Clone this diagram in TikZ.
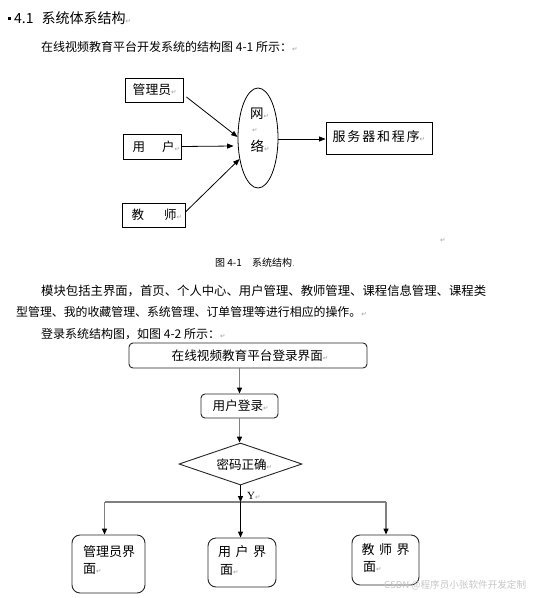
\documentclass[tikz,border=0pt]{standalone}
\usepackage{fontspec}
\setmainfont{Noto Sans CJK SC}
\newfontfamily\dvfont{DejaVu Sans}
\newfontfamily\serifY{Liberation Serif}
\usetikzlibrary{arrows.meta,shapes.geometric,calc}
\definecolor{pmgray}{gray}{0.62}
\definecolor{lnkgray}{gray}{0.5}
\definecolor{wmgray}{gray}{0.78}
\newcommand\fsz[1]{\fontsize{#1}{#1}\selectfont}
\newcommand\parmark{{\dvfont\fontsize{6.5}{6.5}\selectfont\textcolor{pmgray}{↵}}}
\begin{document}
\begin{tikzpicture}[x=1pt,y=-1pt,
  txt/.style={inner sep=0pt,anchor=west},
  sqbox/.style={draw=black,line width=0.9pt,inner sep=0pt},
  rbox/.style={draw=black!85,line width=0.9pt,rounded corners=4pt,inner sep=0pt},
  bbox/.style={draw=black!85,line width=0.9pt,rounded corners=8pt,inner sep=0pt},
  barr/.style={draw=black,line width=0.8pt,-{Triangle[length=6.5pt,width=5pt]}},
  garr/.style={draw=lnkgray,line width=1.2pt,-{Triangle[length=6pt,width=5pt,color=black]}},
  kline/.style={draw=black,line width=1pt},
  gline/.style={draw=lnkgray,line width=1.2pt}]
\useasboundingbox (0,0) rectangle (537,598);
\fill[white] (0,0) rectangle (537,598);

% heading and intro
\node[fill=black,minimum size=3pt,inner sep=0pt] (bullet) at (9.5,18) {};
\node[txt] (title) at (14,18) {\fsz{14}4.1\hspace{8pt}系统体系结构\parmark};
\node[txt] (intro) at (41,47) {\fsz{12}在线视频教育平台开发系统的结构图 4-1 所示：\parmark};

% diagram 4-1
\node[sqbox,minimum width=58pt,minimum height=24pt] (adm) at (154,90) {};
\node[txt] (admt) at (132.5,90) {\fsz{12.8}管理员\parmark};
\node[sqbox,minimum width=58pt,minimum height=25pt] (usr) at (152,146.5) {};
\node[txt] (usrt) at (132.5,146.5) {\fsz{12.5}用\hspace{17pt}户\parmark};
\node[sqbox,minimum width=63pt,minimum height=24pt] (tea) at (153.5,215) {};
\node[txt] (teat) at (131.5,215) {\fsz{12.5}教\hspace{20pt}师\parmark};
\node[draw=black,line width=0.8pt,ellipse,minimum width=40pt,minimum height=100pt,inner sep=0pt] (net) at (258,138) {};
\node[txt] (net1) at (250,114) {\fsz{13.5}网\parmark};
\node[txt] (net2) at (252,130) {\parmark};
\node[txt] (net3) at (250.5,146) {\fsz{13.5}络\parmark};
\node[sqbox,minimum width=106pt,minimum height=32pt] (srv) at (379,138) {};
\node[txt] (srvt) at (332.5,137) {\fsz{13}服\hspace{1.8pt}务\hspace{1.8pt}器\hspace{1.8pt}和\hspace{1.8pt}程\hspace{1.8pt}序\parmark};
\node[txt] (dot) at (440,240) {\parmark};

\draw[barr] ($(adm.east)+(3,7)$) -- ($(net.west)+(0,-1)$);
\draw[barr] (usr.east) -- ($(net.west)+(-4,8)$);
\draw[barr] ($(tea.east)+(0,-3)$) -- ($(net.west)+(2,21)$);
\draw[barr] ($(net.east)+(0,1)$) -- ($(srv.west)+(0,1)$);

\node[txt] (cap) at (215,263) {\fsz{10}图 4-1\hspace{10pt}系统结构\textcolor{pmgray}{.}};

% paragraph
\node[txt] (p1) at (41,291) {\fsz{12.36}模块包括主界面，首页、个人中心、用户管理、教师管理、课程信息管理、课程类};
\node[txt] (p2) at (16,312) {\fsz{11.9}型管理、我的收藏管理、系统管理、订单管理等进行相应的操作。\parmark};
\node[txt] (p3) at (41,334) {\fsz{12}登录系统结构图，如图 4-2 所示：\parmark};

% flowchart 4-2
\node[rbox,minimum width=238pt,minimum height=25pt] (top) at (248,355.5) {};
\node[txt] (topt) at (171.5,355.5) {\fsz{12.6}在线视频教育平台登录界面\parmark};
\node[rbox,minimum width=77pt,minimum height=24pt] (login) at (239.5,406) {};
\node[txt] (logint) at (212.5,406) {\fsz{12.6}用户登录\parmark};
\node[diamond,draw=black!85,line width=0.9pt,minimum width=123pt,minimum height=42pt,inner sep=0pt] (dia) at (240.5,464) {};
\node[txt] (diat) at (216.5,465) {\fsz{12.5}密码正确\parmark};

\draw[garr] (top.south -| login.north) -- (login.north);
\draw[garr] (login.south) -- (login.south |- dia.north);

\coordinate (jn) at (240.5,502);
\coordinate (jL) at (104.5,502);
\coordinate (jR) at (386,502);
\node[txt] (ylab) at (247,496) {\serifY\fsz{11}Y\parmark};

\node[bbox,minimum width=73pt,minimum height=58pt] (bL) at (108.5,564) {};
\node[txt] (bLt1) at (83,552) {\fsz{13}管理员界};
\node[txt] (bLt2) at (83,569) {\fsz{13}面\parmark};
\node[bbox,minimum width=68pt,minimum height=49pt] (bC) at (242,562.5) {};
\node[txt] (bCt1) at (218,552) {\fsz{13}用\hspace{4.5pt}户\hspace{4.5pt}界};
\node[txt] (bCt2) at (220,570) {\fsz{13}面\parmark};
\node[bbox,minimum width=67pt,minimum height=50pt] (bR) at (385.5,560) {};
\node[txt] (bRt1) at (361.5,550) {\fsz{13}教\hspace{4.5pt}师\hspace{4.5pt}界};
\node[txt] (bRt2) at (363,567) {\fsz{13}面\parmark};

\draw[gline] (jL) -- (jR);
\draw[kline,-{Triangle[length=6pt,width=5pt]}] (dia.south) -- (jn);
\draw[garr] (jL) -- (jL |- bL.north);
\draw[kline,-{Triangle[length=6pt,width=5pt]}] (jn) -- (jn |- bC.north);
\draw[garr] (jR) -- (jR |- bR.north);

\node[txt,text=wmgray] (wm) at (384,585) {\fsz{9.6}CSDN @程序员小张软件开发定制};
\end{tikzpicture}
\end{document}
